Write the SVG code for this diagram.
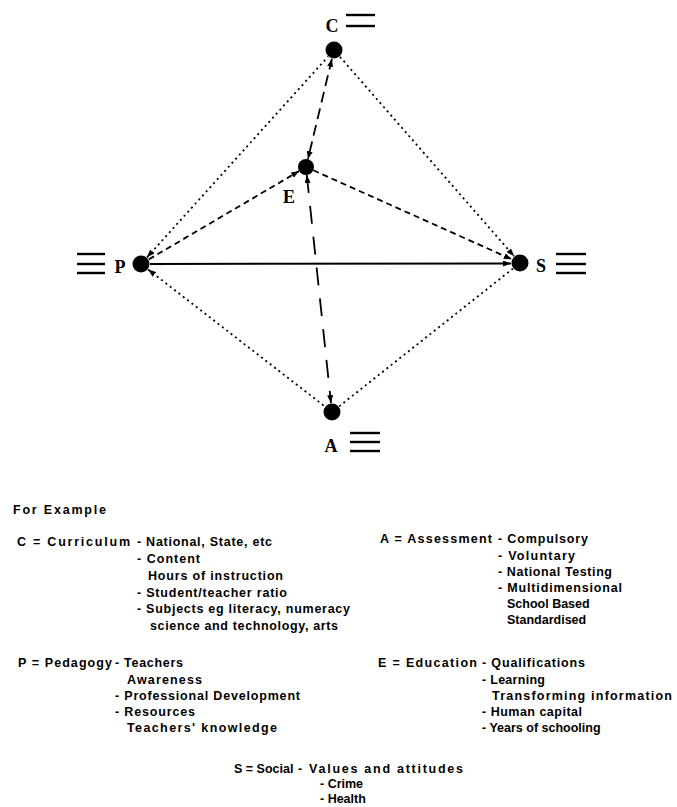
<svg xmlns="http://www.w3.org/2000/svg" width="677" height="807" viewBox="0 0 677 807">
<style>
  .dot { fill: #000; }
  .lbl { font-family: "Liberation Serif", serif; font-weight: bold; font-size: 18px; fill: #000; text-anchor: middle; }
  .bar { stroke: #000; stroke-width: 2.4; }
  .dotted { fill: none; stroke: #000; stroke-width: 1.8; stroke-dasharray: 2 3.5; }
  .dashed { fill: none; stroke: #000; stroke-width: 1.8; stroke-dasharray: 6 4; }
  .ldash1 { fill: none; stroke: #000; stroke-width: 1.8; stroke-dasharray: 11 6; }
  .ldash2 { fill: none; stroke: #000; stroke-width: 1.8; stroke-dasharray: 18 13; }
  .solid { fill: none; stroke: #000; stroke-width: 2; }
  .t { font-family: "Liberation Sans", Arial, sans-serif; font-weight: bold; font-size: 12.5px; fill: #000; }
</style>
<defs>
  <marker id="ah" viewBox="0 0 8 6" refX="8" refY="3" markerWidth="8" markerHeight="6" markerUnits="userSpaceOnUse" orient="auto-start-reverse">
    <path d="M0,0 L8,3 L0,6 z" fill="#000"/>
  </marker>
</defs>

<g id="connectors">
  <line class="dotted" x1="147" y1="257.3" x2="328" y2="56.7" marker-start="url(#ah)"/>
  <line class="dotted" x1="148.1" y1="269.5" x2="324.9" y2="406.5" marker-start="url(#ah)"/>
  <line class="dotted" x1="339.9" y1="56.8" x2="514.1" y2="256.2" marker-end="url(#ah)"/>
  <line class="dotted" x1="339.1" y1="406.4" x2="512.9" y2="268.6"/>
  <line class="dashed" x1="313.3" y1="170.3" x2="511.8" y2="259.3" marker-end="url(#ah)"/>
  <line class="dashed" x1="148.8" y1="259.4" x2="299.1" y2="171.1" marker-end="url(#ah)"/>
  <line class="solid" x1="150" y1="264" x2="511" y2="263.5" marker-end="url(#ah)"/>
  <line class="ldash1" x1="331.9" y1="58.8" x2="307.9" y2="159.2" marker-start="url(#ah)" marker-end="url(#ah)"/>
  <line class="ldash2" x1="306.8" y1="175" x2="331" y2="403.1" marker-start="url(#ah)" marker-end="url(#ah)"/>
</g>

<g id="node-C">
  <circle class="dot" cx="334" cy="50" r="8.5"/>
  <text class="lbl" x="332" y="32">C</text>
  <line class="bar" x1="346" y1="15" x2="375" y2="15"/>
  <line class="bar" x1="346" y1="26" x2="375" y2="26"/>
</g>
<g id="node-P">
  <circle class="dot" cx="141" cy="264" r="8.5"/>
  <text class="lbl" x="120" y="273">P</text>
  <line class="bar" x1="77" y1="254" x2="105" y2="254"/>
  <line class="bar" x1="77" y1="264" x2="105" y2="264"/>
  <line class="bar" x1="77" y1="273" x2="105" y2="273"/>
</g>
<g id="node-S">
  <circle class="dot" cx="520" cy="263" r="8.5"/>
  <text class="lbl" x="541" y="272">S</text>
  <line class="bar" x1="556" y1="254" x2="586" y2="254"/>
  <line class="bar" x1="556" y1="264" x2="586" y2="264"/>
  <line class="bar" x1="556" y1="273" x2="586" y2="273"/>
</g>
<g id="node-A">
  <circle class="dot" cx="332" cy="412" r="8.5"/>
  <text class="lbl" x="331" y="452">A</text>
  <line class="bar" x1="350" y1="433" x2="380" y2="433"/>
  <line class="bar" x1="350" y1="442" x2="380" y2="442"/>
  <line class="bar" x1="350" y1="451" x2="380" y2="451"/>
</g>
<g id="node-E">
  <circle class="dot" cx="306" cy="167" r="8"/>
  <text class="lbl" x="289" y="203">E</text>
</g>

<g id="legend">
  <text class="t" x="13" y="514" textLength="93" lengthAdjust="spacing">For Example</text>

  <text class="t" x="17" y="546" textLength="113" lengthAdjust="spacing">C = Curriculum</text>
  <text class="t" x="137" y="546" textLength="135" lengthAdjust="spacing">- National, State, etc</text>
  <text class="t" x="137" y="563" textLength="63" lengthAdjust="spacing">- Content</text>
  <text class="t" x="148" y="580" textLength="135" lengthAdjust="spacing">Hours of instruction</text>
  <text class="t" x="137" y="597" textLength="150" lengthAdjust="spacing">- Student/teacher ratio</text>
  <text class="t" x="137" y="613" textLength="213" lengthAdjust="spacing">- Subjects eg literacy, numeracy</text>
  <text class="t" x="150" y="630" textLength="188" lengthAdjust="spacing">science and technology, arts</text>

  <text class="t" x="380" y="543" textLength="112" lengthAdjust="spacing">A = Assessment</text>
  <text class="t" x="498" y="543" textLength="90" lengthAdjust="spacing">- Compulsory</text>
  <text class="t" x="498" y="560" textLength="77" lengthAdjust="spacing">- Voluntary</text>
  <text class="t" x="498" y="576" textLength="114" lengthAdjust="spacing">- National Testing</text>
  <text class="t" x="498" y="592" textLength="124" lengthAdjust="spacing">- Multidimensional</text>
  <text class="t" x="507" y="608">School Based</text>
  <text class="t" x="507" y="624">Standardised</text>

  <text class="t" x="18" y="667" textLength="94" lengthAdjust="spacing">P = Pedagogy</text>
  <text class="t" x="115" y="667" textLength="68" lengthAdjust="spacing">- Teachers</text>
  <text class="t" x="127" y="684" textLength="75" lengthAdjust="spacing">Awareness</text>
  <text class="t" x="115" y="700" textLength="185" lengthAdjust="spacing">- Professional Development</text>
  <text class="t" x="115" y="716" textLength="80" lengthAdjust="spacing">- Resources</text>
  <text class="t" x="127" y="732" textLength="150" lengthAdjust="spacing">Teachers' knowledge</text>

  <text class="t" x="378" y="667" textLength="99" lengthAdjust="spacing">E = Education</text>
  <text class="t" x="482" y="667" textLength="103" lengthAdjust="spacing">- Qualifications</text>
  <text class="t" x="482" y="684" textLength="63" lengthAdjust="spacing">- Learning</text>
  <text class="t" x="492" y="700" textLength="180" lengthAdjust="spacing">Transforming information</text>
  <text class="t" x="482" y="716" textLength="100" lengthAdjust="spacing">- Human capital</text>
  <text class="t" x="482" y="732">- Years of schooling</text>

  <text class="t" x="234" y="773">S = Social</text>
  <text class="t" x="298" y="773" textLength="165" lengthAdjust="spacing">- Values and attitudes</text>
  <text class="t" x="320" y="788">- Crime</text>
  <text class="t" x="320" y="803">- Health</text>
</g>
</svg>
